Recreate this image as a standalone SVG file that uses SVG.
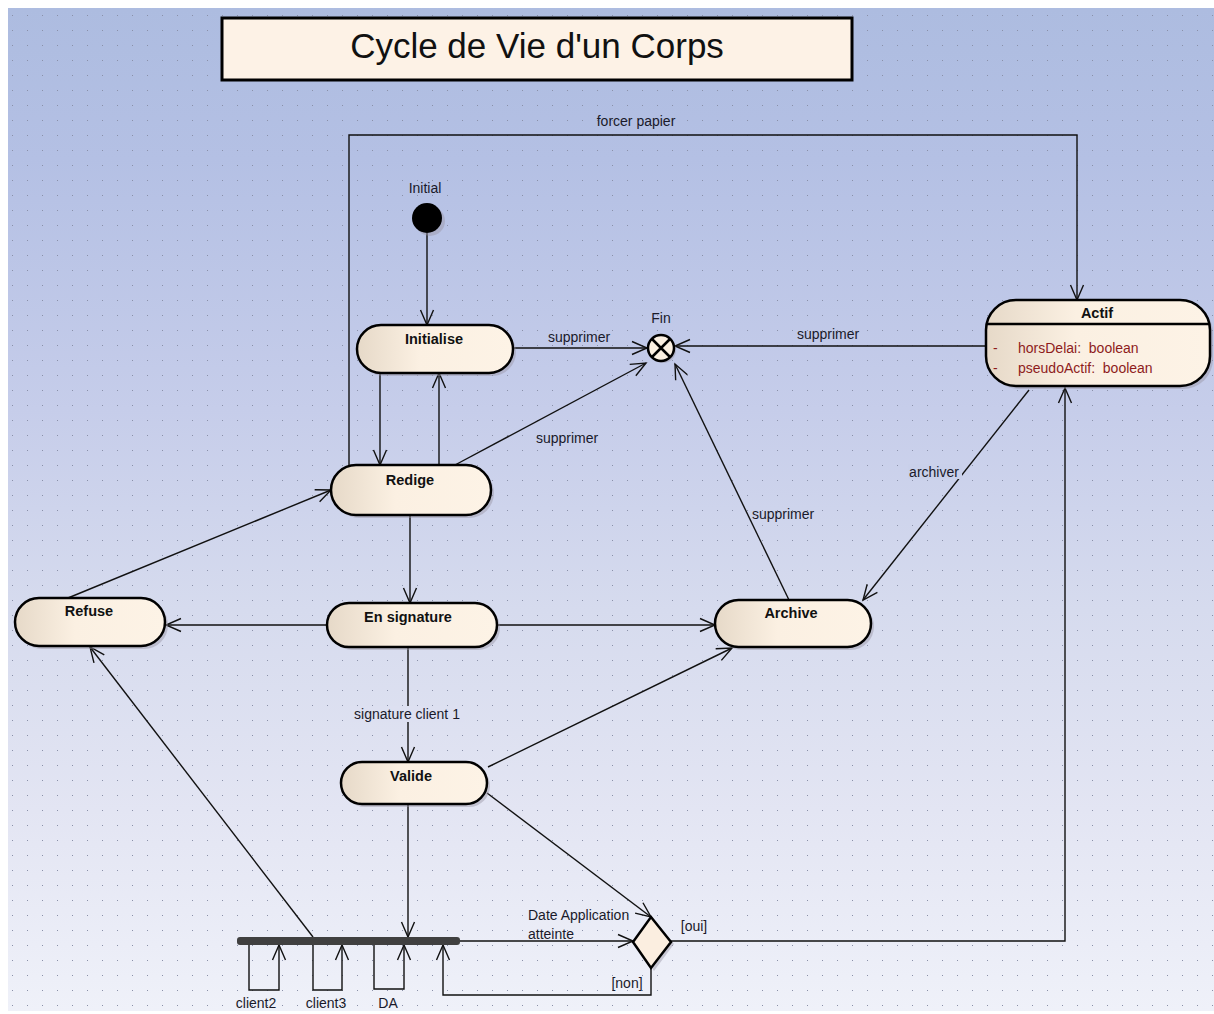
<svg xmlns="http://www.w3.org/2000/svg" width="1214" height="1014" viewBox="0 0 1214 1014">
<defs>
<linearGradient id="bg" x1="0" y1="0" x2="0" y2="1">
<stop offset="0" stop-color="#adbce0"/>
<stop offset="0.15" stop-color="#b4c0e4"/>
<stop offset="0.4" stop-color="#c6cdea"/>
<stop offset="0.6" stop-color="#d6dbee"/>
<stop offset="0.8" stop-color="#e3e5f3"/>
<stop offset="1" stop-color="#eff1f9"/>
</linearGradient>
<pattern id="grid" x="12" y="15" width="15" height="15" patternUnits="userSpaceOnUse">
<rect x="0" y="0" width="1" height="1" fill="#8a90a8"/>
</pattern>
<linearGradient id="nodeFill" x1="0" y1="0" x2="1" y2="0">
<stop offset="0" stop-color="#e6d9c8"/>
<stop offset="0.4" stop-color="#fbf0e2"/>
<stop offset="1" stop-color="#fdf3e6"/>
</linearGradient>
<marker id="arr" markerUnits="userSpaceOnUse" markerWidth="20" markerHeight="20" viewBox="-16 -10 20 20" refX="0" refY="0" orient="auto">
<path d="M-15,-6.5 L0,0 L-15,6.5" fill="none" stroke="#111" stroke-width="1.4"/>
</marker>
<style>
.node{fill:url(#nodeFill);stroke:#000;stroke-width:2.5}
.shadow{fill:#9a94a4;opacity:0.45}
.nl{font-family:"Liberation Sans",Arial,sans-serif;font-size:14.5px;font-weight:bold;fill:#111;text-anchor:middle}
.cl{font-family:"Liberation Sans",Arial,sans-serif;font-size:14px;fill:#1a1a2a}
.mid{text-anchor:middle}
.attr{font-family:"Liberation Sans",Arial,sans-serif;font-size:14px;fill:#8e1c1c}
.c{fill:none;stroke:#111;stroke-width:1.4}
.ca{fill:none;stroke:#111;stroke-width:1.4;marker-end:url(#arr)}
</style>
</defs>
<rect x="8" y="8" width="1206" height="1003" fill="url(#bg)"/>
<rect x="8" y="8" width="1206" height="1003" fill="url(#grid)"/>

<g id="title">
<rect x="222" y="18" width="630" height="62" fill="#fdf2e6" stroke="#000" stroke-width="3"/>
<text x="537" y="58" font-family="Liberation Sans,Arial,sans-serif" font-size="35" text-anchor="middle" fill="#111">Cycle de Vie d'un Corps</text>
</g>

<g id="connectors">
<line class="ca" x1="427" y1="233" x2="427" y2="325"/>
<line class="ca" x1="380" y1="373" x2="380" y2="465"/>
<line class="ca" x1="439" y1="465" x2="439" y2="373"/>
<line class="ca" x1="513" y1="348" x2="647" y2="348"/>
<text class="cl mid" x="579" y="342">supprimer</text>
<line class="ca" x1="455" y1="465" x2="646" y2="363"/>
<text class="cl mid" x="567" y="443">supprimer</text>
<line class="ca" x1="986" y1="346" x2="675" y2="346"/>
<text class="cl mid" x="828" y="339">supprimer</text>
<line class="ca" x1="789" y1="600" x2="675" y2="364"/>
<text class="cl mid" x="783" y="519">supprimer</text>
<line class="ca" x1="1029" y1="390" x2="863" y2="600"/>
<rect x="908" y="464" width="54" height="15" fill="#c9d0ea"/>
<text class="cl mid" x="934" y="477">archiver</text>
<polyline class="ca" points="349,465 349,135 1077,135 1077,300"/>
<text class="cl mid" x="636" y="126">forcer papier</text>
<line class="ca" x1="410" y1="515" x2="410" y2="603"/>
<line class="ca" x1="327" y1="625" x2="166" y2="625"/>
<line class="ca" x1="68" y1="598" x2="331" y2="490"/>
<line class="ca" x1="497" y1="625" x2="715" y2="625"/>
<line class="ca" x1="408" y1="647" x2="408" y2="762"/>
<rect x="350" y="706" width="114" height="16" fill="#dde0f1"/>
<text class="cl mid" x="407" y="719">signature client 1</text>
<line class="ca" x1="488" y1="767" x2="732" y2="648"/>
<line class="ca" x1="487" y1="793" x2="651" y2="917"/>
<line class="ca" x1="408" y1="804" x2="408" y2="937"/>
<line class="ca" x1="313" y1="937" x2="90" y2="647"/>
<line class="ca" x1="460" y1="941" x2="633" y2="941"/>
<text class="cl" x="528" y="920">Date Application</text>
<text class="cl" x="528" y="939">atteinte</text>
<polyline class="ca" points="671,941 1065,941 1065,388"/>
<text class="cl mid" x="694" y="931">[oui]</text>
<polyline class="ca" points="651,968 651,995 443,995 443,945"/>
<text class="cl mid" x="627" y="988">[non]</text>
<polyline class="ca" points="249,945 249,990 279,990 279,945"/>
<text class="cl mid" x="256" y="1008">client2</text>
<polyline class="ca" points="313,945 313,990 342,990 342,945"/>
<text class="cl mid" x="326" y="1008">client3</text>
<polyline class="ca" points="374,945 374,989 404,989 404,945"/>
<text class="cl mid" x="388" y="1008">DA</text>
</g>

<g id="initial">
<circle cx="430" cy="221" r="15" fill="#9a94a4" opacity="0.45"/>
<circle cx="427" cy="218" r="15" fill="#000"/>
<text class="cl mid" x="425" y="193">Initial</text>
</g>

<g id="fin">
<circle cx="663" cy="350" r="13" fill="#9a94a4" opacity="0.45"/>
<circle cx="661" cy="348" r="13" fill="#fbf0e2" stroke="#000" stroke-width="2.5"/>
<path d="M652,339 L670,357 M670,339 L652,357" stroke="#000" stroke-width="2.5"/>
<text class="cl mid" x="661" y="323">Fin</text>
</g>

<g id="initialise">
<rect class="shadow" x="360" y="328" width="156" height="48" rx="24"/>
<rect class="node" x="357" y="325" width="156" height="48" rx="24"/>
<text class="nl" x="434" y="344">Initialise</text>
</g>

<g id="redige">
<rect class="shadow" x="334" y="468" width="160" height="50" rx="25"/>
<rect class="node" x="331" y="465" width="160" height="50" rx="25"/>
<text class="nl" x="410" y="485">Redige</text>
</g>

<g id="refuse">
<rect class="shadow" x="18" y="601" width="150" height="48" rx="24"/>
<rect class="node" x="15" y="598" width="150" height="48" rx="24"/>
<text class="nl" x="89" y="616">Refuse</text>
</g>

<g id="ensignature">
<rect class="shadow" x="330" y="606" width="170" height="44" rx="22"/>
<rect class="node" x="327" y="603" width="170" height="44" rx="22"/>
<text class="nl" x="408" y="622">En signature</text>
</g>

<g id="archive">
<rect class="shadow" x="718" y="603" width="156" height="47" rx="23.5"/>
<rect class="node" x="715" y="600" width="156" height="47" rx="23.5"/>
<text class="nl" x="791" y="618">Archive</text>
</g>

<g id="valide">
<rect class="shadow" x="344" y="765" width="146" height="42" rx="21"/>
<rect class="node" x="341" y="762" width="146" height="42" rx="21"/>
<text class="nl" x="411" y="781">Valide</text>
</g>

<g id="actif">
<rect class="shadow" x="989" y="303" width="224" height="86" rx="30"/>
<rect class="node" x="986" y="300" width="224" height="86" rx="30"/>
<line x1="987" y1="324" x2="1209" y2="324" stroke="#000" stroke-width="2.5"/>
<text class="nl" x="1097" y="318">Actif</text>
<text class="attr" x="993" y="353">-</text>
<text class="attr" x="1018" y="353">horsDelai:&#160; boolean</text>
<text class="attr" x="993" y="373">-</text>
<text class="attr" x="1018" y="373">pseudoActif:&#160; boolean</text>
</g>

<g id="fork">
<rect x="237" y="937" width="223" height="8" rx="3" fill="#404040"/>
</g>

<g id="decision">
<polygon points="654,920 674,944 654,971 636,944" fill="#9a94a4" opacity="0.45"/>
<polygon points="651,917 671,942 651,968 633,942" fill="#fbeee0" stroke="#000" stroke-width="2.5"/>
</g>
</svg>
